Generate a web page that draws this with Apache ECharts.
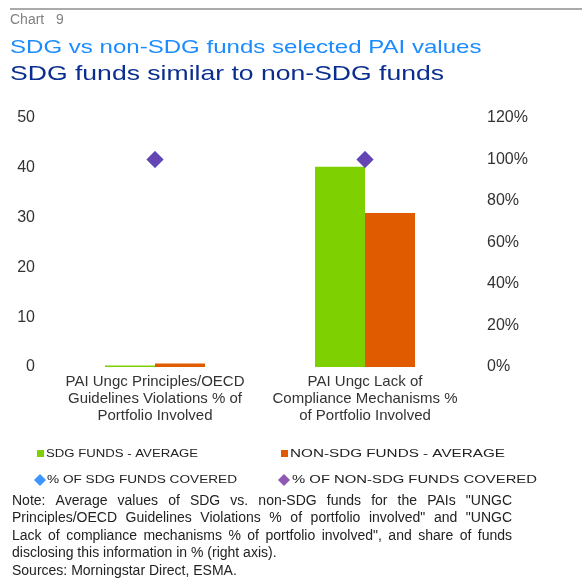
<!DOCTYPE html>
<html>
<head>
<meta charset="utf-8">
<script src="https://cdn.jsdelivr.net/npm/echarts@6/dist/echarts.min.js"></script>
<style>
  html, body { margin: 0; padding: 0; background: #fff; }
  #main { width: 582px; height: 581px; }
</style>
</head>
<body>
<div id="main"></div>
<script>
var categories = [
  'PAI Ungc Principles/OECD\nGuidelines Violations % of\nPortfolio Involved',
  'PAI Ungc Lack of\nCompliance Mechanisms %\nof Portfolio Involved'
];
var sdgAverage = [0.3, 40.2];
var nonSdgAverage = [0.7, 30.9];
var sdgCovered = [100, 100];
var nonSdgCovered = [100, 100];
var leftTicks = [0, 50, 10];   // min, max, interval
var rightTicks = [0, 120, 20];
var seriesNames = ['SDG FUNDS - AVERAGE', 'NON-SDG FUNDS - AVERAGE',
                   '% OF SDG FUNDS COVERED', '% OF NON-SDG FUNDS COVERED'];

var FONT = 'Liberation Sans, Arial, sans-serif';

var noteLines = [
  'Note: Average values of SDG vs. non-SDG funds for the PAIs "UNGC',
  'Principles/OECD Guidelines Violations % of portfolio involved" and "UNGC',
  'Lack of compliance mechanisms % of portfolio involved", and share of funds',
  'disclosing this information in % (right axis).',
  'Sources: Morningstar Direct, ESMA.'
];

var myChart = echarts.init(document.getElementById('main'));
var ctx = document.createElement('canvas').getContext('2d');

// justified note text: first three lines fill the full width
var NOTE_FONT = '14px ' + FONT;
function noteGraphics(x, y, width, lineH) {
  var out = [];
  ctx.font = NOTE_FONT;
  noteLines.forEach(function (line, i) {
    var top = y + i * lineH;
    if (i >= 3) {
      out.push({ type: 'text', x: x, y: top, style: { text: line, font: NOTE_FONT, fill: '#222' } });
      return;
    }
    var words = line.split(' ');
    var total = 0;
    words.forEach(function (w) { total += ctx.measureText(w).width; });
    var gap = (width - total) / (words.length - 1);
    var cx = x;
    words.forEach(function (w) {
      out.push({ type: 'text', x: cx, y: top, style: { text: w, font: NOTE_FONT, fill: '#222' } });
      cx += ctx.measureText(w).width + gap;
    });
  });
  return out;
}

// legend labels are drawn wide-spaced like the original
var LEGEND_FONT = '10px ' + FONT;
function legendLabel(text, x, yMid, width) {
  ctx.font = LEGEND_FONT;
  var w = ctx.measureText(text).width;
  return { type: 'text', x: x, y: yMid, scaleX: width / w,
    style: { text: text, font: LEGEND_FONT, fill: '#222', verticalAlign: 'middle' } };
}

function legendAt(name, icon, left, top, w, h) {
  return {
    data: [name], left: left, top: top, icon: icon,
    itemWidth: w, itemHeight: h, itemGap: 0, padding: 0,
    formatter: function () { return ''; },
    selectedMode: false
  };
}

var graphics = [
  { type: 'line', shape: { x1: 10, y1: 9, x2: 582, y2: 9 },
    style: { stroke: '#aaaaaa', lineWidth: 2 } },
  { type: 'text', x: 10, y: 13,
    style: { text: 'Chart   9', font: '14px ' + FONT, fill: '#808080' } },
  { type: 'text', x: 10, y: 38, scaleX: 1.3,
    style: { text: 'SDG vs non-SDG funds selected PAI values', font: '18.5px ' + FONT, fill: '#1a8cff' } },
  { type: 'text', x: 10, y: 64, scaleX: 1.265,
    style: { text: 'SDG funds similar to non-SDG funds', font: '21px ' + FONT, fill: '#0a2e8f' } },
  legendLabel(seriesNames[0], 46, 454, 152),
  legendLabel(seriesNames[1], 290, 454, 215),
  legendLabel(seriesNames[2], 47, 480, 190),
  legendLabel(seriesNames[3], 292, 480, 245)
].concat(noteGraphics(12, 494, 500, 17.5));

var option = {
  animation: false,
  graphic: graphics,
  legend: [
    legendAt(seriesNames[0], 'rect', 37, 450, 7, 7),
    legendAt(seriesNames[1], 'rect', 281, 450, 7, 7),
    legendAt(seriesNames[2], 'diamond', 34, 474, 12, 12),
    legendAt(seriesNames[3], 'diamond', 278, 474, 12, 12)
  ],
  grid: { left: 50, right: 112, top: 118, height: 249 },
  xAxis: {
    type: 'category',
    data: categories,
    axisLine: { show: false },
    axisTick: { show: false },
    axisLabel: { interval: 0, fontFamily: FONT, fontSize: 15, color: '#333', lineHeight: 17, margin: 6 }
  },
  yAxis: [
    { type: 'value', min: leftTicks[0], max: leftTicks[1], interval: leftTicks[2],
      splitLine: { show: false }, axisLine: { show: false }, axisTick: { show: false },
      axisLabel: { fontFamily: FONT, fontSize: 16, color: '#333', margin: 15 } },
    { type: 'value', min: rightTicks[0], max: rightTicks[1], interval: rightTicks[2],
      splitLine: { show: false }, axisLine: { show: false }, axisTick: { show: false },
      axisLabel: { fontFamily: FONT, fontSize: 16, color: '#333', margin: 17,
                   formatter: '{value}%' } }
  ],
  series: [
    { name: seriesNames[0], type: 'bar', data: sdgAverage,
      barWidth: 50, barGap: '0%', itemStyle: { color: '#7ed000' } },
    { name: seriesNames[1], type: 'bar', data: nonSdgAverage,
      barWidth: 50, itemStyle: { color: '#e05a00' } },
    { name: seriesNames[2], type: 'scatter', yAxisIndex: 1, data: sdgCovered,
      symbol: 'diamond', symbolSize: 17, itemStyle: { color: '#0a7cff' } },
    { name: seriesNames[3], type: 'scatter', yAxisIndex: 1, data: nonSdgCovered,
      symbol: 'diamond', symbolSize: 17, itemStyle: { color: '#7030a0' } }
  ]
};

myChart.setOption(option);
</script>
</body>
</html>
